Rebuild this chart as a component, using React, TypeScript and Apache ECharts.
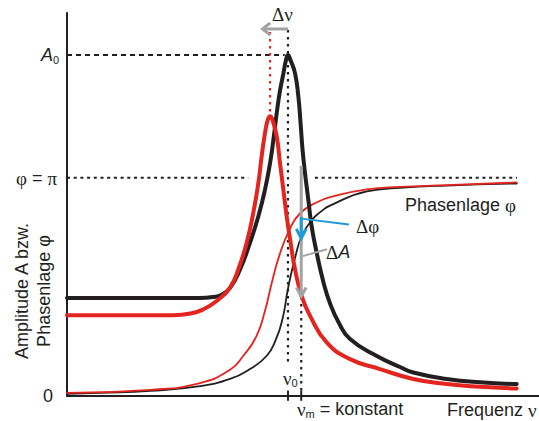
import { useEffect, useRef } from 'react';
import * as echarts from 'echarts';

// Amplitude curves (x: frequency, relative to nu0 = 1; y: relative to A0 = 1)
const ampRefX = [0, 0.6, 0.66, 0.7, 0.738, 0.783, 0.828, 0.866, 0.896, 0.919, 0.934, 0.949, 0.964, 0.979, 0.99, 1.0, 1.013, 1.032, 1.047, 1.057, 1.066, 1.077, 1.092, 1.107, 1.13, 1.16, 1.19, 1.23, 1.281, 1.4, 1.507, 1.567, 1.718, 1.869, 2.035];
const ampRefY = [0.287, 0.287, 0.29, 0.297, 0.317, 0.371, 0.449, 0.527, 0.605, 0.683, 0.751, 0.829, 0.895, 0.944, 0.982, 1.0, 0.982, 0.946, 0.878, 0.8, 0.722, 0.654, 0.576, 0.498, 0.42, 0.335, 0.272, 0.215, 0.167, 0.118, 0.085, 0.069, 0.05, 0.04, 0.035];

const ampShiftX = [0, 0.48, 0.56, 0.617, 0.68, 0.738, 0.775, 0.813, 0.843, 0.866, 0.881, 0.896, 0.909, 0.919, 0.932, 0.949, 0.964, 0.979, 0.994, 1.012, 1.032, 1.062, 1.1, 1.175, 1.281, 1.416, 1.567, 1.718, 1.869, 2.035];
const ampShiftY = [0.237, 0.237, 0.242, 0.254, 0.28, 0.318, 0.371, 0.449, 0.537, 0.625, 0.703, 0.771, 0.81, 0.82, 0.805, 0.761, 0.683, 0.605, 0.527, 0.449, 0.371, 0.293, 0.235, 0.157, 0.108, 0.079, 0.05, 0.035, 0.027, 0.022];

// Phase curves
const phaseRefX = [0, 0.15, 0.376, 0.602, 0.738, 0.828, 0.904, 0.945, 0.975, 1.001, 1.032, 1.062, 1.107, 1.152, 1.19, 1.357, 1.507, 1.719, 2.035];
const phaseRefY = [0.006, 0.009, 0.015, 0.029, 0.05, 0.079, 0.118, 0.165, 0.225, 0.318, 0.405, 0.468, 0.515, 0.542, 0.558, 0.6, 0.61, 0.617, 0.623];

const phaseShiftX = [0, 0.376, 0.602, 0.738, 0.798, 0.858, 0.896, 0.926, 0.96, 1.005, 1.054, 1.131, 1.204, 1.357, 1.507, 1.719, 2.035];
const phaseShiftY = [0.009, 0.018, 0.038, 0.077, 0.118, 0.176, 0.25, 0.33, 0.41, 0.485, 0.535, 0.568, 0.585, 0.606, 0.613, 0.618, 0.626];

// Reference levels
const levels = { A0: 1.0, phiPi: 0.64 };
const freqs = { nu0: 1.0, nuM: 1.06, nuShift: 0.919 };
const axisMax = { x: 2.136, y: 1.1228 };

const INK = '#231f20';
const RED = '#e3241f';
const GRAY = '#a3a3a3';
const BLUE = '#1f9ad8';
const SANS = '"Liberation Sans", Arial, sans-serif';
const SERIF = '"Liberation Serif", "Times New Roman", serif';

const zip = (xs: number[], ys: number[]) => xs.map((x, i) => [x, ys[i]]);

const curve = (data: number[][], color: string, width: number, z: number) => ({
  type: 'line',
  data,
  symbol: 'none',
  smooth: 0.5,
  silent: true,
  lineStyle: { color, width, cap: 'round', join: 'round' },
  z,
});

const seg = (data: number[][], color: string, width: number, dash: any = 'solid', z = 5) => ({
  type: 'line',
  data,
  symbol: 'none',
  silent: true,
  clip: false,
  lineStyle: { color, width, type: dash, cap: 'butt', join: 'miter' },
  z,
});

export default function App() {
  const ref = useRef<HTMLDivElement>(null);

  useEffect(() => {
    if (!ref.current) return;
    const chart = echarts.init(ref.current, undefined, { renderer: 'svg' });
    const { A0, phiPi } = levels;
    const { nu0, nuM, nuShift } = freqs;

    const series: any[] = [
      seg([[0, A0], [0.985, A0]], INK, 2, [5, 4], 1),
      seg([[0, phiPi], [0.82, phiPi]], INK, 2, [3, 3.7], 1),
      seg([[1.122, phiPi], [2.036, phiPi]], INK, 2, [3, 3.7], 1),
      seg([[nu0, 1.073], [nu0, 0.094]], INK, 2.2, [2.5, 4.5], 1),
      seg([[nuM, 0.29], [nuM, 0]], INK, 2.2, [2.5, 4.5], 1),
      seg([[nuShift, 1.067], [nuShift, 0.82]], RED, 2.2, [2.5, 4.5], 1),
      curve(zip(phaseRefX, phaseRefY), INK, 1.8, 2),
      curve(zip(phaseShiftX, phaseShiftY), RED, 1.8, 2),
      curve(zip(ampRefX, ampRefY), INK, 4, 3),
      curve(zip(ampShiftX, ampShiftY), RED, 4, 4),
      seg([[-0.027, A0], [0, A0]], INK, 1.5, 'solid', 6),
      seg([[-0.027, phiPi], [0, phiPi]], INK, 1.5, 'solid', 6),
      seg([[nu0, -0.014], [nu0, 0.016]], INK, 2, 'solid', 6),
      seg([[nuM, -0.014], [nuM, 0.016]], INK, 2, 'solid', 6),
      // delta nu arrow
      seg([[nu0, 1.076], [0.888, 1.076]], GRAY, 3, 'solid', 7),
      seg([[0.92, 1.094], [0.885, 1.076], [0.92, 1.058]], GRAY, 3, 'solid', 7),
      // delta A arrow
      seg([[nuM, 0.675], [nuM, 0.296]], GRAY, 3, 'solid', 7),
      seg([[nuM - 0.022, 0.318], [nuM, 0.292], [nuM + 0.022, 0.318]], GRAY, 3, 'solid', 7),
      seg([[nuM + 0.006, 0.41], [1.176, 0.43]], GRAY, 2, 'solid', 7),
      // delta phi arrow
      seg([[nuM, 0.525], [nuM, 0.47]], BLUE, 3, 'solid', 8),
      seg([[nuM - 0.022, 0.49], [nuM, 0.462], [nuM + 0.022, 0.49]], BLUE, 3, 'solid', 8),
      seg([[nuM, 0.52], [1.276, 0.503]], BLUE, 2, 'solid', 8),
    ];

    const txt = (x: number, y: number, text: string, align: string, extra: any = {}) => ({
      type: 'text',
      x,
      y,
      silent: true,
      z: 10,
      style: {
        text,
        fill: INK,
        fontSize: 18,
        fontFamily: SANS,
        align,
        verticalAlign: 'middle',
        ...extra,
      },
    });

    const sub = { fontSize: 11, fontFamily: SANS, fill: INK, padding: [9, 0, 0, 0] };
    const greek = { fontSize: 19, fontFamily: SERIF, fill: INK };
    const it = { fontSize: 18, fontFamily: SANS, fontStyle: 'italic', fill: INK };
    const norm = { fontSize: 18, fontFamily: SANS, fill: INK };

    chart.setOption({
      animation: false,
      grid: { left: 67, right: 0, top: 13, bottom: 25, containLabel: false },
      xAxis: {
        type: 'value',
        min: 0,
        max: axisMax.x,
        axisLine: { show: true, onZero: false, lineStyle: { color: INK, width: 2 } },
        axisTick: { show: false },
        axisLabel: { show: false },
        splitLine: { show: false },
      },
      yAxis: {
        type: 'value',
        min: 0,
        max: axisMax.y,
        axisLine: { show: true, lineStyle: { color: INK, width: 2 } },
        axisTick: { show: false },
        axisLabel: { show: false },
        splitLine: { show: false },
      },
      series,
      graphic: [
        txt(59, 55, '{i|A}{s|0}', 'right', { rich: { i: it, s: sub } }),
        txt(57, 178, '{g|φ} {n|= }{g|π}', 'right', { rich: { g: greek, n: norm } }),
        txt(53, 396, '0', 'right'),
        {
          type: 'text',
          x: 33,
          y: 291,
          rotation: Math.PI / 2,
          silent: true,
          z: 10,
          style: {
            text: 'Amplitude A bzw.\nPhasenlage φ',
            fill: INK,
            fontSize: 18,
            fontFamily: SANS,
            align: 'center',
            verticalAlign: 'middle',
            lineHeight: 22,
          },
        },
        txt(272, 14, '{g|Δν}', 'left', { rich: { g: greek } }),
        txt(356, 226, '{g|Δφ}', 'left', { rich: { g: greek } }),
        txt(326, 252, '{g|Δ}{i|A}', 'left', { rich: { g: greek, i: it } }),
        txt(405, 205, '{n|Phasenlage }{g|φ}', 'left', { rich: { n: norm, g: greek } }),
        txt(283, 378, '{g|ν}{s|0}', 'left', { rich: { g: greek, s: sub } }),
        txt(297, 409, '{g|ν}{s|m}{n| = konstant}', 'left', { rich: { g: greek, s: sub, n: norm } }),
        txt(447, 410, '{n|Frequenz }{g|ν}', 'left', { rich: { n: norm, g: greek } }),
      ],
    });

    return () => chart.dispose();
  }, []);

  return (
    <div
      ref={ref}
      style={{ position: 'fixed', left: 0, top: 0, width: 539, height: 421, background: '#fff' }}
    />
  );
}
